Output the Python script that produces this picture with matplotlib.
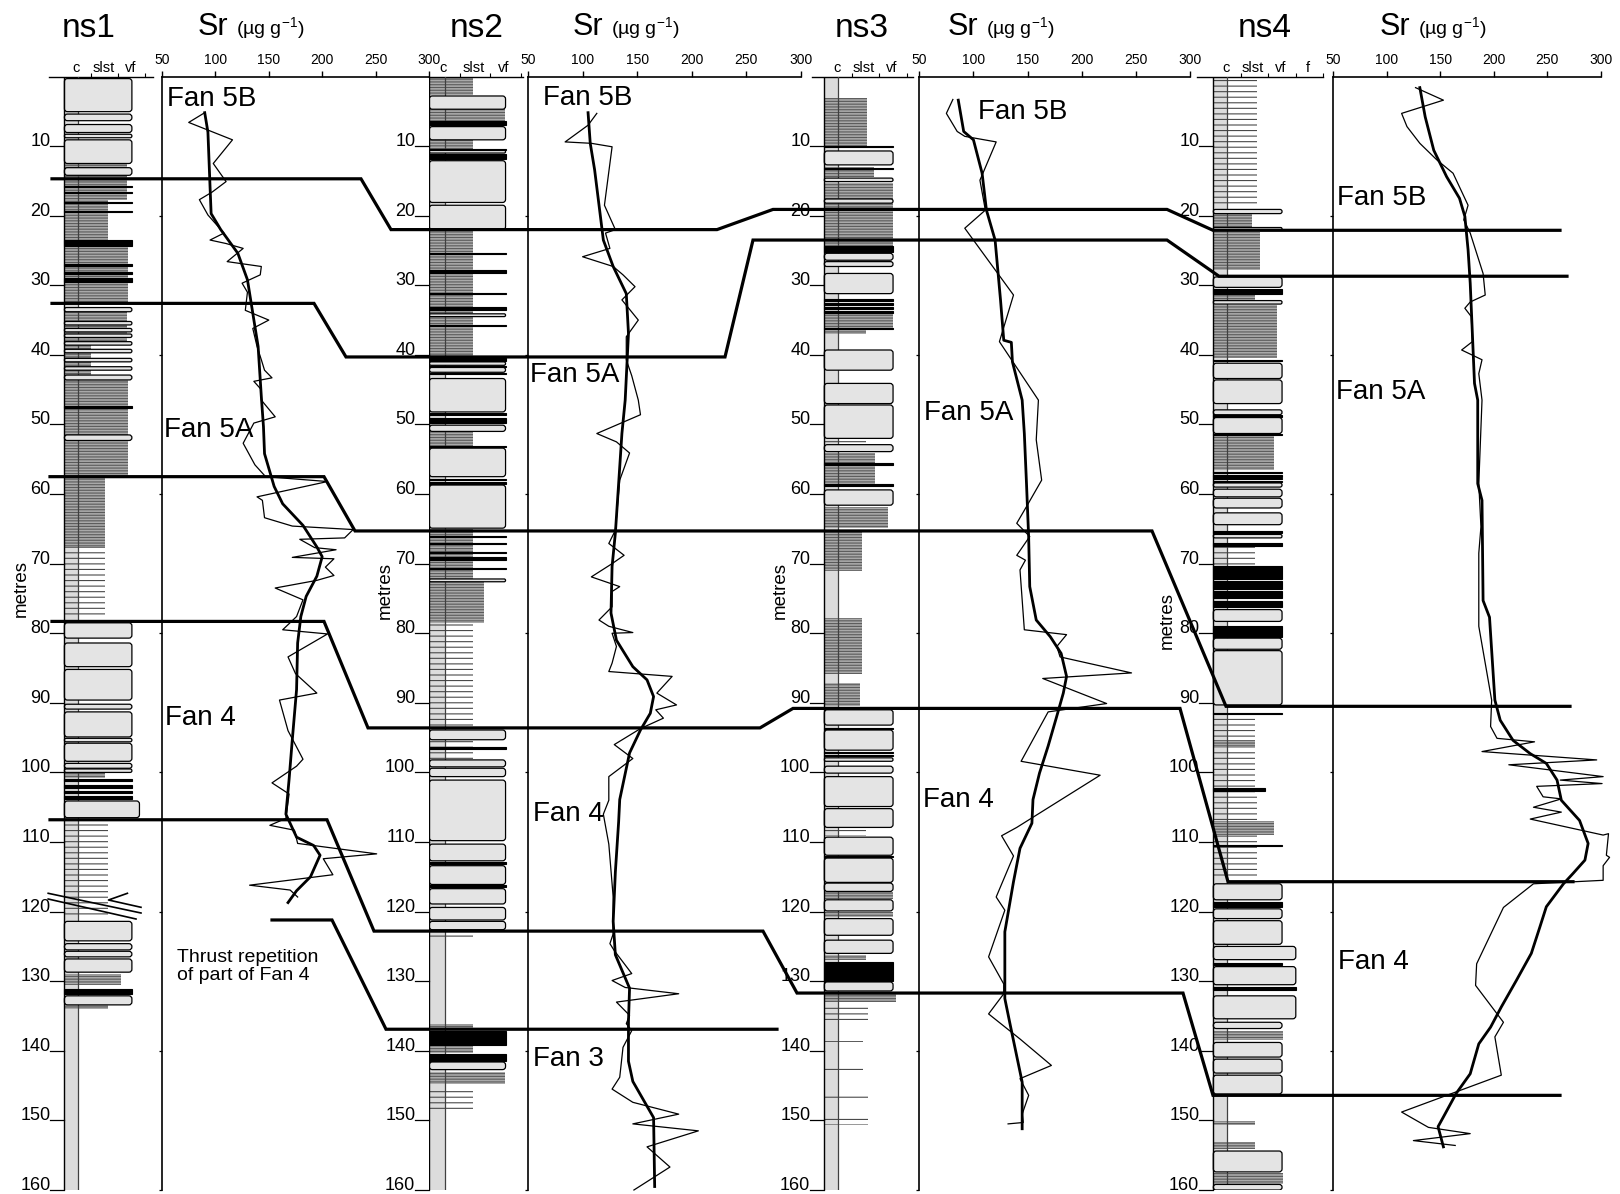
import matplotlib
matplotlib.use('Agg')
import matplotlib.pyplot as plt
from matplotlib.patches import FancyBboxPatch, Rectangle

plt.rcParams['font.family'] = ['Liberation Sans', 'DejaVu Sans']
plt.rcParams['mathtext.fontset'] = 'custom'
plt.rcParams['mathtext.rm'] = 'Liberation Sans'
plt.rcParams['hatch.linewidth'] = 0.8

# ---------------- Sr profiles (depth in m, Sr in ug/g) ----------------
ns1_raw_depth = [5.2, 6.6, 9.1, 12.5, 15.1, 16.6, 17.7, 19.9, 22.5, 23.5, 24.0, 24.7, 26.6, 27.3, 28.5,
                 29.7, 31.0, 33.6, 35.0, 36.2, 38.8, 40.7, 42.2, 43.3, 43.8, 45.0, 46.5, 48.9, 49.8, 52.7,
                 55.8, 57.5, 58.2, 60.4, 60.9, 63.4, 64.6, 65.1, 66.3, 66.5, 67.7, 68.0, 69.1, 69.3, 70.5,
                 71.7, 72.4, 73.5, 75.2, 77.6, 79.5, 80.1, 83.4, 85.8, 88.6, 89.6, 94.0, 98.1, 99.1, 101.5,
                 103.1, 106.6, 107.6, 108.3, 110.2, 111.7, 112.4, 114.7, 116.2, 116.9, 117.9]
ns1_raw_sr = [90, 75, 116, 98, 110, 97, 85, 93, 108, 95, 110, 126, 111, 143, 142,
              125, 130, 128, 150, 135, 139, 143, 146, 153, 136, 143, 143, 156, 136, 126,
              137, 147, 205, 139, 144, 146, 172, 229, 221, 179, 193, 213, 172, 211, 203,
              211, 195, 156, 182, 176, 163, 205, 168, 175, 195, 160, 168, 182, 176, 153,
              169, 166, 151, 174, 177, 251, 201, 210, 132, 170, 177]
ns1_smooth_depth = [5.2, 8.0, 15.9, 19.7, 22.0, 25.4, 29.2, 34.0, 38.8, 46.0, 50.3, 54.2, 58.9, 61.4, 64.5,
                    67.6, 69.0, 71.8, 74.7, 77.6, 81.4, 88.1, 95.3, 101.0, 106.0, 109.3, 110.5, 111.9,
                    115.0, 117.0, 118.7]
ns1_smooth_sr = [90, 93, 95, 96, 105, 121, 130, 135, 140, 143, 145, 146, 155, 163, 182,
                 195, 200, 195, 185, 180, 177, 176, 172, 169, 166, 176, 192, 198, 189, 176, 168]

ns2_raw_depth = [5.3, 7.0, 9.4, 9.6, 10.1, 18.5, 22.0, 22.5, 24.7, 25.9, 27.3, 28.5, 30.2, 32.1, 35.0,
                 37.4, 40.7, 43.0, 46.5, 48.6, 51.3, 52.5, 54.1, 58.0, 65.2, 67.1, 68.8, 70.0, 71.9, 73.3,
                 74.0, 76.2, 78.1, 79.0, 79.9, 80.0, 81.9, 84.3, 85.5, 86.2, 88.6, 90.3, 91.0, 92.2, 93.7,
                 96.0, 98.0, 100.6, 104.0, 106.0, 110.3, 117.9, 123.2, 124.6, 125.6, 128.9, 129.9, 130.9,
                 131.8, 133.0, 134.9, 136.1, 137.1, 139.5, 143.8, 145.5, 147.4, 149.1, 150.5, 151.5, 153.8,
                 156.7, 160.0]
ns2_raw_sr = [113, 105, 84, 108, 127, 120, 130, 121, 125, 100, 128, 137, 148, 136, 151,
              140, 140, 145, 151, 153, 113, 131, 143, 134, 130, 124, 138, 127, 108, 134,
              127, 127, 115, 124, 146, 127, 131, 127, 124, 182, 168, 186, 167, 174, 153,
              129, 146, 124, 124, 119, 124, 128, 128, 125, 129, 145, 127, 139,
              188, 131, 143, 140, 145, 137, 134, 127, 146, 188, 146, 206, 159, 180, 147]
ns2_smooth_depth = [5.2, 9.6, 13.4, 19.7, 23.5, 27.3, 31.2, 36.9, 46.5, 51.3, 58.5, 65.6, 70.4, 77.1, 81.0,
                    84.8, 86.7, 89.1, 91.5, 93.9, 97.2, 103.9, 107.1, 114.3, 121.4, 126.2, 131.0, 135.8,
                    141.5, 144.4, 149.6, 159.5]
ns2_smooth_sr = [105, 107, 111, 116, 119, 128, 140, 142, 139, 136, 133, 130, 127, 126, 131,
                 146, 159, 165, 162, 153, 143, 134, 133, 130, 128, 130, 143, 142, 142, 146, 165, 166]

ns3_raw_depth = [3.3, 5.3, 7.9, 8.6, 9.4, 14.9, 19.2, 21.8, 31.4, 38.1, 46.5, 52.2, 58.0, 61.8, 64.2,
                 66.1, 68.8, 69.5, 70.9, 79.5, 80.2, 81.9, 83.4, 85.7, 86.5, 90.1, 91.3, 98.4, 100.4, 107.9,
                 109.1, 112.0, 117.9, 119.8, 126.5, 130.4, 131.8, 134.7, 138.3, 142.1, 144.0, 146.4, 149.1,
                 150.3, 150.5]
ns3_raw_sr = [81, 75, 85, 92, 121, 106, 111, 92, 137, 124, 160, 158, 163, 149, 140,
              152, 140, 148, 143, 147, 186, 177, 180, 246, 164, 223, 169, 144, 217, 140,
              126, 137, 121, 129, 114, 128, 128, 114, 143, 172, 143, 151, 145, 146, 132]
ns3_smooth_depth = [3.4, 7.9, 9.1, 13.9, 19.2, 23.5, 32.1, 37.9, 38.2, 41.0, 46.5, 51.3, 58.5, 66.2, 73.3,
                    78.1, 80.5, 82.9, 86.2, 88.6, 91.9, 96.2, 100.1, 103.9, 107.3, 110.9, 115.7, 122.9,
                    132.5, 136.3, 144.5, 151.2]
ns3_smooth_sr = [86, 91, 100, 108, 112, 120, 125, 128, 135, 136, 145, 147, 149, 151, 152,
                 158, 171, 181, 186, 183, 177, 169, 161, 155, 154, 143, 137, 129, 129, 134, 145, 145]

ns4_raw_depth = [1.6, 3.4, 5.3, 7.2, 9.6, 12.0, 13.9, 18.5, 20.6, 22.5, 28.3, 31.4, 32.4, 33.3, 34.5,
                 38.1, 39.3, 40.7, 42.7, 46.5, 58.5, 64.7, 68.5, 79.0, 89.6, 93.4, 95.1, 95.6, 97.0, 98.2,
                 98.9, 100.6, 101.1, 101.6, 102.0, 103.5, 103.8, 105.0, 105.7, 106.7, 109.0, 108.8, 111.9,
                 112.2, 113.4, 115.5, 116.0, 119.4, 127.5, 130.6, 135.9, 138.0, 143.5, 148.8, 151.0, 151.9,
                 152.9, 153.6]
ns4_raw_sr = [127, 153, 114, 119, 131, 147, 162, 176, 172, 178, 190, 192, 178, 173, 179,
              180, 170, 189, 186, 189, 186, 188, 186, 186, 198, 197, 203, 238, 189, 296,
              214, 302, 262, 301, 240, 246, 263, 237, 263, 234, 302, 307, 305,
              308, 302, 302, 237, 209, 184, 183, 209, 201, 207, 114, 139, 178, 125, 164]
ns4_smooth_depth = [1.6, 5.8, 10.6, 14.4, 17.5, 20.1, 24.9, 29.7, 36.9, 44.1, 46.5, 58.5, 60.9, 75.3, 77.7,
                    89.6, 92.5, 95.4, 97.3, 98.7, 101.1, 104.0, 106.9, 110.2, 112.6, 114.5, 116.0, 119.3,
                    122.2, 126.0, 129.9, 133.7, 136.6, 139.0, 143.3, 146.1, 149.5, 150.9, 153.8]
ns4_smooth_sr = [131, 136, 144, 156, 168, 173, 176, 178, 180, 182, 185, 185, 189, 190, 196,
                 201, 206, 218, 234, 249, 259, 263, 280, 288, 285, 274, 265, 249,
                 243, 235, 221, 207, 197, 186, 178, 165, 153, 148, 153]

# ---------------- sedimentary logs ----------------
# sandstone beds: (top, base[, grain size class position]); default = very fine sand
ns1_sand = [(0.3, 5.05), (5.4, 6.35), (6.9, 8.05), (8.3, 8.8), (9.1, 12.5), (13.1, 14.2), (33.2, 33.8),
            (35.2, 35.7), (36.2, 36.7), (37.0, 37.5), (38.1, 38.6), (39.2, 39.7), (40.5, 41.0), (41.7, 42.2),
            (42.9, 43.6), (51.5, 52.3), (78.5, 80.7), (81.4, 84.8), (85.2, 89.6), (90.2, 90.9), (91.3, 94.9),
            (95.1, 95.6), (95.8, 98.4), (98.7, 99.4), (99.5, 100.0), (104.1, 106.5, 2.78), (121.4, 124.2),
            (124.6, 125.5), (125.7, 126.5), (126.8, 128.7), (132.1, 133.4)]
# thin black (dark mudstone) beds: (top, base)
ns1_black = [(15.7, 15.9), (16.6, 16.8), (18.0, 18.2), (19.3, 19.5), (23.5, 24.3), (27.0, 27.2), (28.1, 28.4),
             (29.0, 29.5), (47.4, 47.6), (101.0, 101.3), (101.8, 102.2), (102.6, 103.0), (103.4, 103.8),
             (131.1, 131.8)]
# mudstone / siltstone intervals: (top, base, grain size reached, 'd' dense or 's' sparse laminae)
ns1_mud = [(12.5, 15.6, 2.3, 'd'), (15.6, 17.7, 2.3, 'd'), (17.7, 23.5, 1.6, 'd'), (24.3, 32.6, 2.35, 'd'),
           (33.8, 38.0, 2.3, 'd'), (38.0, 43.6, 1.0, 'd'), (43.6, 57.5, 2.35, 'd'), (57.5, 67.6, 1.5, 'd'),
           (67.6, 77.6, 1.5, 's'), (100.0, 100.8, 1.5, 'd'), (107.2, 120.8, 1.6, 's'), (128.9, 130.6, 2.1, 'd'),
           (133.4, 134.0, 1.6, 'd')]

ns2_sand = [(2.8, 4.7), (7.2, 9.1), (10.6, 11.0), (12.1, 18.1), (18.5, 22.0), (34.1, 34.5), (41.0, 41.5),
            (41.8, 42.5), (43.4, 48.2), (50.1, 51.0), (53.4, 57.5), (58.7, 64.9), (72.2, 72.6), (93.9, 95.3),
            (98.2, 99.2), (99.4, 100.6), (101.1, 109.8), (110.3, 112.7), (113.4, 116.1), (116.7, 118.9),
            (119.4, 121.2), (121.4, 122.6), (141.6, 142.7)]
ns2_black = [(6.4, 7.0), (10.4, 10.6), (11.1, 11.9), (25.3, 25.5), (27.8, 28.2), (31.1, 31.3), (33.1, 33.5),
             (35.7, 35.9), (40.5, 40.9), (41.6, 41.8), (42.6, 42.8), (48.4, 48.6), (49.1, 49.8), (53.1, 53.3),
             (57.8, 58.0), (58.3, 58.5), (66.0, 66.2), (67.0, 67.2), (68.3, 68.5), (69.0, 69.5), (70.6, 70.8),
             (96.4, 96.6), (112.8, 113.1), (116.2, 116.4), (137.1, 139.2), (140.4, 141.4)]
ns2_mud = [(0.1, 2.7, 1.42, 'd'), (4.7, 6.4, 2.48, 'd'), (9.1, 10.4, 1.42, 'd'), (22.0, 40.4, 1.42, 'd'),
           (51.0, 53.1, 1.42, 'd'), (65.0, 72.5, 1.42, 'd'), (72.5, 78.5, 1.8, 'd'), (78.5, 93.6, 1.42, 's'),
           (95.3, 98.0, 1.42, 's'), (123.0, 124.2, 1.42, 's'), (136.1, 137.0, 1.42, 'd'),
           (139.3, 140.3, 1.42, 'd'), (143.1, 144.7, 2.48, 'd'), (145.2, 148.3, 1.42, 's')]

ns3_sand = [(10.7, 12.7), (14.6, 15.1), (17.6, 18.2), (25.4, 26.4), (26.6, 27.3), (28.3, 31.2), (39.3, 42.2),
            (44.1, 47.0), (47.2, 52.0), (52.9, 53.9), (59.4, 61.6), (91.0, 93.2), (93.9, 96.8), (97.9, 98.4),
            (99.1, 100.1), (100.6, 104.9), (105.2, 107.9), (109.3, 111.9), (112.3, 115.8), (115.9, 117.1),
            (118.3, 119.9), (121.0, 123.4), (124.1, 126.0), (130.1, 131.4)]
ns3_black = [(10.0, 10.2), (13.1, 13.3), (24.4, 25.2), (31.9, 32.2), (32.5, 32.8), (33.1, 33.4), (33.7, 34.0),
             (36.1, 36.3), (55.6, 55.8), (58.6, 58.8), (93.6, 93.8), (97.0, 97.2), (97.5, 97.7), (112.0, 112.2),
             (127.3, 129.9)]
ns3_mud = [(3.1, 10.0, 1.54, 'd'), (13.0, 14.5, 1.8, 'd'), (15.3, 24.4, 2.5, 'd'), (34.0, 36.4, 2.5, 'd'),
           (36.4, 37.0, 1.5, 'd'), (52.2, 52.9, 1.5, 's'), (54.1, 58.5, 1.85, 'd'), (61.8, 64.9, 2.3, 'd'),
           (65.4, 71.1, 1.36, 'd'), (77.8, 85.8, 1.36, 'd'), (87.2, 90.5, 1.3, 'd'), (108.0, 109.2, 1.5, 's'),
           (117.2, 118.2, 2.5, 'd'), (120.1, 120.8, 2.5, 'd'), (126.3, 127.0, 1.5, 'd'), (131.8, 133.0, 2.6, 'd'),
           (133.7, 136.1, 1.6, 's'), (138.3, 138.7, 1.4, 's'), (142.2, 142.9, 1.4, 's'), (146.2, 146.9, 1.6, 's'),
           (149.7, 150.6, 1.6, 's')]

ns4_sand = [(19.1, 19.7), (21.7, 22.1), (28.8, 30.3), (32.2, 32.7), (41.2, 43.4), (43.6, 47.0), (47.9, 48.6),
            (49.0, 51.3), (58.4, 59.0), (59.3, 60.4), (60.6, 62.0), (62.7, 64.4), (65.8, 66.3), (76.6, 78.3),
            (80.7, 82.3), (82.5, 90.3), (116.0, 118.3), (119.6, 121.0), (121.3, 124.7), (125.0, 126.9, 3.0),
            (127.9, 130.5, 3.0), (132.1, 135.4, 3.0), (135.9, 136.8), (138.8, 140.9), (141.2, 143.2),
            (143.5, 146.2), (154.4, 157.4), (159.2, 160.0)]
ns4_black = [(30.6, 31.2), (40.7, 40.9), (48.7, 48.9), (51.3, 51.5), (56.8, 57.0), (57.3, 57.5), (57.7, 57.9),
             (58.1, 58.3), (65.3, 65.6), (67.0, 67.5), (70.4, 72.2), (72.5, 73.6), (73.9, 75.0), (75.3, 76.2),
             (79.0, 80.5), (91.4, 91.6), (102.3, 102.6, 1.88), (110.4, 110.6), (118.6, 119.4), (127.4, 127.6),
             (130.8, 131.2, 3.0)]
ns4_mud = [(0.5, 18.7, 1.58, 's'), (19.7, 21.6, 1.4, 'd'), (22.3, 27.8, 1.7, 'd'), (31.2, 32.1, 1.5, 'd'),
           (32.8, 40.5, 2.3, 'd'), (51.5, 56.5, 2.2, 'd'), (67.6, 70.2, 1.5, 's'), (92.0, 103.0, 1.5, 's'),
           (95.3, 96.5, 1.5, 'd'), (103.0, 115.5, 1.6, 's'), (107.0, 109.0, 2.2, 'd'), (137.1, 138.5, 2.52, 'd'),
           (150.1, 150.6, 1.5, 'd'), (153.1, 154.1, 1.5, 'd'), (157.6, 159.1, 2.52, 'd')]

# ---------------- correlation surfaces: depth (m) picked in ns1..ns4 ----------------
surface_1 = [14.7, 22.0, 19.1, 22.1]
surface_2 = [32.6, 40.3, 23.5, 28.7]
surface_3 = [57.5, 65.3, 65.3, 90.5]
surface_4 = [78.3, 93.6, 90.8, 115.7]
surface_5 = [106.8, 122.8, 131.7, 146.4]
thrust_surface = [121.2, 136.9]

well_names = ['ns1', 'ns2', 'ns3', 'ns4']
grain_classes = [['c', 'slst', 'vf'], ['c', 'slst', 'vf'], ['c', 'slst', 'vf'], ['c', 'slst', 'vf', 'f']]

# ---------------- layout (pixels in a 1620 x 1194 canvas) ----------------
W, H = 1620, 1194
Y0, Y1 = 76.5, 1190.0          # rows of 0 m and 160 m
PX_PER_M = (Y1 - Y0) / 160.0
col_left = [64.4, 429.3, 824.3, 1213.3]
col_unit = [27.0, 30.5, 27.5, 27.5]
head_span = [(48.5, 153), (429.3, 523), (812, 913), (1197, 1323.3)]
sr_span = [(162, 429), (528, 801), (919.3, 1190), (1333, 1601)]
title_x = [88.6, 477, 862, 1265]
sr_title_x = [198, 573, 948, 1380]
metres_pos = [(21.5, 73.6), (385, 73.9), (780, 73.9), (1167.5, 78.2)]

surface_layout = [  # (x start, x end, ramps between consecutive wells)
    (surface_1, 52, 1560, [(361, 391), (717, 773), (1167, 1213)]),
    (surface_2, 52, 1567, [(314, 346), (725, 753), (1167, 1219)]),
    (surface_3, 50, 1570, [(324, 355), (700, 720), (1152, 1226)]),
    (surface_4, 52, 1573, [(324, 368), (760, 793), (1180, 1228)]),
    (surface_5, 50, 1560, [(327, 374), (763, 797), (1183, 1213)]),
    (thrust_surface, 272, 777, [(332, 386)]),
]
fan_labels = [('Fan 5B', 167, 3.3), ('Fan 5A', 163.6, 50.8), ('Fan 4', 164.6, 92.2),
              ('Fan 5B', 543.3, 3.1), ('Fan 5A', 530, 42.9), ('Fan 4', 532.7, 106), ('Fan 3', 532.7, 141.2),
              ('Fan 5B', 978.3, 5.1), ('Fan 5A', 924, 48.4), ('Fan 4', 922.6, 104),
              ('Fan 5B', 1336.7, 17.4), ('Fan 5A', 1336, 45.4), ('Fan 4', 1338.3, 127.3)]

SAND = '#e4e4e4'
STRIP = '#dcdcdc'


def px_axes(fig, x0, x1):
    return fig.add_axes([x0 / W, 1 - Y1 / H, (x1 - x0) / W, (Y1 - Y0) / H])


def draw_log(ax, unit, sand, black, mud):
    ax.add_patch(Rectangle((0, 0), 0.5, 160, fc=STRIP, ec='none', zorder=1))
    for top, base, ext, kind in mud:
        if kind == 'd':
            ax.add_patch(Rectangle((0, top), ext, base - top, fc='#a9a9a9', ec='#5a5a5a',
                                   hatch='------', lw=0, zorder=2))
        else:
            ax.add_patch(Rectangle((0, top), ext, base - top, fc='none', ec='#4a4a4a',
                                   hatch='---', lw=0, zorder=2))
    ax.plot([0.5, 0.5], [0, 160], color='#404040', lw=0.9, zorder=3)
    asp = unit / PX_PER_M
    for bed in sand:
        top, base = bed[0], bed[1]
        right = bed[2] if len(bed) > 2 else 2.5
        h = base - top
        r = min(3.0 / unit, right / 2, h / asp / 2)
        ax.add_patch(FancyBboxPatch((0, top), right, h, boxstyle=f'round,pad=0,rounding_size={r:.4f}',
                                    mutation_aspect=asp, fc=SAND, ec='k', lw=0.9, zorder=4))
    for bed in black:
        top, base = bed[0], bed[1]
        right = bed[2] if len(bed) > 2 else 2.5
        ax.add_patch(Rectangle((0, top), right, base - top, fc='k', ec='k', lw=0.8, zorder=5))
    ax.plot([0, 0], [0, 160], color='k', lw=1.0, zorder=6)


fig = plt.figure(figsize=(16.2, 11.94), dpi=100)

logs = [(ns1_sand, ns1_black, ns1_mud), (ns2_sand, ns2_black, ns2_mud),
        (ns3_sand, ns3_black, ns3_mud), (ns4_sand, ns4_black, ns4_mud)]
sr_data = [(ns1_raw_depth, ns1_raw_sr, ns1_smooth_depth, ns1_smooth_sr),
           (ns2_raw_depth, ns2_raw_sr, ns2_smooth_depth, ns2_smooth_sr),
           (ns3_raw_depth, ns3_raw_sr, ns3_smooth_depth, ns3_smooth_sr),
           (ns4_raw_depth, ns4_raw_sr, ns4_smooth_depth, ns4_smooth_sr)]

for i in range(4):
    unit, left = col_unit[i], col_left[i]
    h0, h1 = head_span[i]

    # sedimentary log
    lx = px_axes(fig, h0, h1)
    lx.set_xlim((h0 - left) / unit, (h1 - left) / unit)
    lx.set_ylim(160, 0)
    lx.patch.set_visible(False)
    for s in ['left', 'right', 'bottom']:
        lx.spines[s].set_visible(False)
    lx.spines['top'].set_linewidth(1.0)
    lx.xaxis.tick_top()
    lx.set_xticks(range(1, len(grain_classes[i]) + 1))
    lx.tick_params(axis='x', direction='out', length=3, width=0.8, labeltop=False)
    lx.set_yticks([])
    for k, g in enumerate(grain_classes[i]):
        lx.annotate(g, xy=(k + 0.45, 1), xycoords=('data', 'axes fraction'), xytext=(0, 3),
                    textcoords='offset points', ha='center', va='baseline', fontsize=10.5)
    draw_log(lx, unit, *logs[i])
    tick_u = 14.0 / unit
    for d in range(10, 161, 10):
        lx.plot([-tick_u, 0], [d, d], color='k', lw=0.9, clip_on=False)
        lx.text(-tick_u, d, str(d), ha='right', va='baseline', fontsize=13, clip_on=False)

    # Sr profile
    sx = px_axes(fig, *sr_span[i])
    sx.set_xlim(50, 300)
    sx.set_ylim(160, 0)
    sx.patch.set_visible(False)
    sx.spines['right'].set_visible(False)
    sx.spines['bottom'].set_visible(False)
    sx.spines['top'].set_linewidth(1.2)
    sx.spines['left'].set_linewidth(1.2)
    sx.xaxis.tick_top()
    sx.set_xticks(range(50, 301, 50))
    sx.tick_params(axis='x', direction='out', length=4, width=1.0, pad=3, labelsize=10)
    sx.set_yticks(range(20, 161, 20))
    sx.tick_params(axis='y', direction='out', length=2.5, width=0.9, labelleft=False)
    rd, rs, sd, ss = sr_data[i]
    sx.plot(rs, rd, color='k', lw=0.9, clip_on=False)
    sx.plot(ss, sd, color='k', lw=2.0)

    # titles
    fig.text(title_x[i] / W, 1 - 36.7 / H, well_names[i], ha='center', va='baseline', fontsize=24)
    fig.text(sr_title_x[i] / W, 1 - 35 / H, 'Sr', ha='left', va='baseline', fontsize=22)
    fig.text((sr_title_x[i] + 38) / W, 1 - 35 / H, r'(µg g$^{\mathregular{-1}}$)', ha='left',
             va='baseline', fontsize=14)

# overlay for correlation lines and labels
ov = px_axes(fig, 0, W)
ov.set_xlim(0, W)
ov.set_ylim(160, 0)
ov.axis('off')
ov.set_zorder(10)

for depths, xs0, xs1, ramps in surface_layout:
    xs, ys = [xs0], [depths[0]]
    for (a, b), d0, d1 in zip(ramps, depths[:-1], depths[1:]):
        xs += [a, b]
        ys += [d0, d1]
    xs.append(xs1)
    ys.append(depths[-1])
    ov.plot(xs, ys, color='k', lw=2.3, solid_joinstyle='miter', clip_on=False)

for txt, x, d in fan_labels:
    ov.text(x, d, txt, ha='left', va='center', fontsize=20)

ov.text(177.3, (949 - Y0) / PX_PER_M, 'Thrust repetition\nof part of Fan 4', ha='left', va='top',
        fontsize=14, linespacing=1.05)

for x, d in metres_pos:
    ov.text(x, d, 'metres', rotation=90, ha='center', va='center', fontsize=13.5)

# thrust symbol on ns1 log (in ns1 log pixel positions)
thrust_marks = [[(48.2, 893.3), (141, 913)], [(48.2, 899), (136, 919)],
                [(127.4, 893.3), (108.5, 900), (141, 907.3)]]
for mark in thrust_marks:
    ov.plot([p[0] for p in mark], [(p[1] - Y0) / PX_PER_M for p in mark], color='k', lw=1.2)

fig.savefig('out.png', dpi=100)
